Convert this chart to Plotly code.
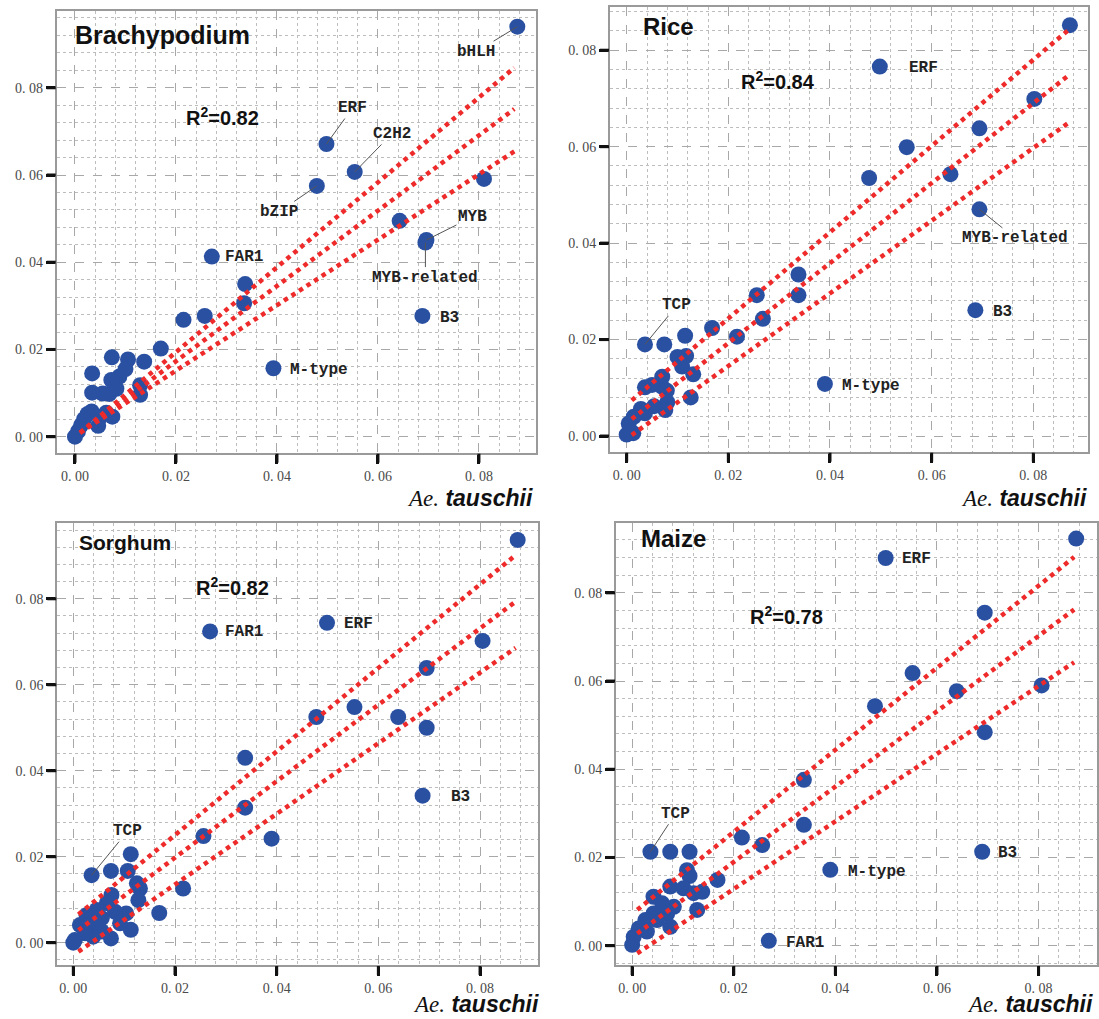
import numpy as np
import plotly.graph_objects as go

W, H = 1099, 1019

# ---------------- data ----------------
tick_vals = [0.0, 0.02, 0.04, 0.06, 0.08]
tick_text = ["0. 00", "0. 02", "0. 04", "0. 06", "0. 08"]
panel_names = ["Brachypodium", "Rice", "Sorghum", "Maize"]
r2_values = ["0.82", "0.84", "0.82", "0.78"]
x_title = "Ae. tauschii"

brachy_x = [0.0876, 0.0498, 0.0554, 0.0479, 0.0810, 0.0643, 0.0696, 0.0694, 0.0688, 0.0271,
            0.0337, 0.0335, 0.0393, 0.0257, 0.0215, 0.0170, 0.0137, 0.0105, 0.0073, 0.0100,
            0.0034, 0.0088, 0.0072, 0.0129, 0.0129, 0.0082, 0.0068, 0.0055, 0.0034, 0.0074,
            0.0062, 0.0050, 0.0046, 0.0033, 0.0025, 0.0018, 0.0012, 0.0006, 0.0000]
brachy_y = [0.0940, 0.0671, 0.0607, 0.0575, 0.0591, 0.0495, 0.0451, 0.0445, 0.0277, 0.0413,
            0.0350, 0.0306, 0.0157, 0.0277, 0.0268, 0.0202, 0.0172, 0.0177, 0.0182, 0.0155,
            0.0145, 0.0138, 0.0130, 0.0118, 0.0096, 0.0110, 0.0098, 0.0099, 0.0101, 0.0046,
            0.0055, 0.0045, 0.0025, 0.0058, 0.0052, 0.0040, 0.0026, 0.0012, 0.0000]
brachy_labels = ["bHLH", "ERF", "C2H2", "bZIP", "", "", "MYB", "MYB-related", "B3", "FAR1",
                 "", "", "M-type"] + [""] * 26

rice_x = [0.0872, 0.0498, 0.0802, 0.0694, 0.0551, 0.0637, 0.0477, 0.0694, 0.0686, 0.0390,
          0.0338, 0.0338, 0.0256, 0.0268, 0.0217, 0.0168, 0.0036, 0.0074, 0.0115, 0.0100,
          0.0117, 0.0109, 0.0131, 0.0126, 0.0070, 0.0070, 0.0036, 0.0050, 0.0079, 0.0080,
          0.0076, 0.0054, 0.0028, 0.0036, 0.0014, 0.0004, 0.0013, 0.0000]
rice_y = [0.0852, 0.0766, 0.0699, 0.0638, 0.0599, 0.0543, 0.0535, 0.0470, 0.0261, 0.0108,
          0.0335, 0.0292, 0.0292, 0.0243, 0.0206, 0.0224, 0.0190, 0.0190, 0.0208, 0.0164,
          0.0166, 0.0144, 0.0128, 0.0080, 0.0123, 0.0102, 0.0101, 0.0106, 0.0094, 0.0070,
          0.0054, 0.0062, 0.0056, 0.0047, 0.0040, 0.0026, 0.0006, 0.0003]
rice_labels = ["", "ERF", "", "", "", "", "", "MYB-related", "B3", "M-type",
               "", "", "", "", "", "", "TCP"] + [""] * 21

sorghum_x = [0.0874, 0.0499, 0.0269, 0.0805, 0.0695, 0.0553, 0.0478, 0.0639, 0.0695, 0.0338,
             0.0687, 0.0338, 0.0256, 0.0390, 0.0216, 0.0169, 0.0036, 0.0074, 0.0113, 0.0107,
             0.0125, 0.0131, 0.0128, 0.0104, 0.0113, 0.0074, 0.0075, 0.0066, 0.0082, 0.0092,
             0.0046, 0.0056, 0.0026, 0.0033, 0.0013, 0.0056, 0.0039, 0.0023, 0.0003, 0.0000]
sorghum_y = [0.0937, 0.0744, 0.0724, 0.0702, 0.0639, 0.0548, 0.0525, 0.0525, 0.0500, 0.0430,
             0.0342, 0.0314, 0.0248, 0.0242, 0.0126, 0.0069, 0.0157, 0.0167, 0.0206, 0.0167,
             0.0138, 0.0126, 0.0099, 0.0068, 0.0030, 0.0010, 0.0111, 0.0092, 0.0072, 0.0045,
             0.0076, 0.0057, 0.0064, 0.0041, 0.0041, 0.0026, 0.0014, 0.0022, 0.0006, 0.0000]
sorghum_labels = ["", "ERF", "FAR1", "", "", "", "", "", "", "",
                  "B3", "", "", "", "", "", "TCP"] + [""] * 23

maize_x = [0.0874, 0.0499, 0.0694, 0.0552, 0.0639, 0.0806, 0.0478, 0.0694, 0.0338, 0.0338,
           0.0689, 0.0390, 0.0269, 0.0216, 0.0256, 0.0036, 0.0075, 0.0113, 0.0108, 0.0113,
           0.0168, 0.0075, 0.0101, 0.0121, 0.0138, 0.0128, 0.0042, 0.0082, 0.0059, 0.0069,
           0.0075, 0.0042, 0.0026, 0.0049, 0.0013, 0.0029, 0.0003, 0.0000]
maize_y = [0.0923, 0.0879, 0.0755, 0.0618, 0.0577, 0.0590, 0.0543, 0.0484, 0.0376, 0.0274,
           0.0213, 0.0172, 0.0011, 0.0245, 0.0228, 0.0213, 0.0213, 0.0213, 0.0171, 0.0158,
           0.0149, 0.0134, 0.0130, 0.0119, 0.0122, 0.0081, 0.0111, 0.0088, 0.0096, 0.0073,
           0.0043, 0.0073, 0.0058, 0.0058, 0.0039, 0.0032, 0.0020, 0.0002]
maize_labels = ["", "ERF", "", "", "", "", "", "", "", "",
                "B3", "M-type", "FAR1", "", "", "TCP"] + [""] * 22

# fitted lines (upper, middle, lower): intercepts and slopes
fit_x_range = [0.001, 0.087]
brachy_fit_intercept = [-0.00007, 0.00004, 0.00015]
brachy_fit_slope = [0.973, 0.863, 0.750]
rice_fit_intercept = [0.0065, 0.0027, -0.00055]
rice_fit_slope = [0.894, 0.829, 0.7535]
sorghum_fit_intercept = [0.0056, 0.0020, -0.0029]
sorghum_fit_slope = [0.972, 0.889, 0.8216]
maize_fit_intercept = [0.0072, 0.0019, -0.0025]
maize_fit_slope = [0.930, 0.854, 0.767]

panels_x = [brachy_x, rice_x, sorghum_x, maize_x]
panels_y = [brachy_y, rice_y, sorghum_y, maize_y]
panels_labels = [brachy_labels, rice_labels, sorghum_labels, maize_labels]
panels_icpt = [brachy_fit_intercept, rice_fit_intercept, sorghum_fit_intercept, maize_fit_intercept]
panels_slope = [brachy_fit_slope, rice_fit_slope, sorghum_fit_slope, maize_fit_slope]

# ---------------- layout / styling ----------------
# plot frames in pixels (left, right, top, bottom)
frames = [(56.7, 536.0, 11.0, 452.7),
          (610.0, 1087.7, 7.3, 451.7),
          (57.3, 537.5, 522.7, 965.0),
          (616.0, 1097.0, 522.7, 965.0)]
xranges = [[-0.00362, 0.0913], [-0.00328, 0.0907], [-0.00315, 0.0913], [-0.00318, 0.0915]]
yranges = [[-0.00367, 0.0976], [-0.00325, 0.0889], [-0.00519, 0.0977], [-0.00438, 0.0959]]

title_pos = [(73, 35, 25), (641, 26, 24), (77, 542, 21), (639, 538, 24)]
r2_pos = [(184, 117), (739, 80), (194, 586), (748, 615)]
xtitle_pos = [(535, 498), (1089, 498), (541, 1004), (1095, 1004)]

# label offsets (px): (mode, dx, dy) ; mode 'arrow' = leader line, 'right' = text to right
label_style = [
    {"bHLH": ("arrow", -41, 25), "ERF": ("arrow", 26, -36), "C2H2": ("arrow", 37, -38),
     "bZIP": ("arrow", -38, 26), "MYB": ("arrow", 46, -23), "MYB-related": ("arrow", 0, 35),
     "FAR1": ("right", 11, 0), "B3": ("right", 16, 2), "M-type": ("right", 15, 2)},
    {"ERF": ("right", 27, 1), "MYB-related": ("arrow", 36, 29), "TCP": ("arrow", 32, -39),
     "B3": ("right", 16, 2), "M-type": ("right", 15, 2)},
    {"FAR1": ("right", 13, 1), "ERF": ("right", 15, 1), "B3": ("right", 26, 1),
     "TCP": ("arrow", 36, -44)},
    {"ERF": ("right", 14, 1), "B3": ("right", 14, 1), "M-type": ("right", 16, 2),
     "FAR1": ("right", 15, 2), "TCP": ("arrow", 25, -38)},
]

BLUE = "#2A50A2"
RED = "#EE2A2A"
GRID_MAJOR = "#A8A8A8"
GRID_MINOR = "#BDBDBD"
TICK_LEN = 9
LABEL_FONT = dict(family="Liberation Mono", size=16, color="#222222")
alias = {"%.2f" % v: t for v, t in zip(tick_vals, tick_text)}

fig = go.Figure()
annotations = []
shapes = []

for i in range(4):
    ax_id = "" if i == 0 else str(i + 1)
    xref = "x" + ax_id
    yref = "y" + ax_id
    l, r, t, b = frames[i]
    dom_x = [l / W, r / W]
    dom_y = [1 - b / H, 1 - t / H]

    fig.add_trace(go.Scatter(
        x=panels_x[i], y=panels_y[i], mode="markers",
        marker=dict(size=16, color=BLUE, line=dict(width=0)),
        xaxis=xref, yaxis=yref, showlegend=False, hoverinfo="skip"))

    fx = np.array(fit_x_range)
    for a, s in zip(panels_icpt[i], panels_slope[i]):
        fig.add_trace(go.Scatter(
            x=fx, y=a + s * fx, mode="lines",
            line=dict(color=RED, width=4.5, dash="4.5px,4.5px"),
            xaxis=xref, yaxis=yref, showlegend=False, hoverinfo="skip"))

    axis_common = dict(
        showline=True, mirror=True, linecolor="#9A9A9A", linewidth=2,
        ticks="outside", ticklen=TICK_LEN, tickwidth=3, tickcolor="#111111",
        tickmode="linear", tick0=0, dtick=tick_vals[1] - tick_vals[0],
        tickformat=".2f", labelalias=alias,
        tickfont=dict(family="Liberation Serif", size=14, color="#4A4A4A"),
        showgrid=True, gridcolor=GRID_MAJOR, gridwidth=1, griddash="dash",
        zeroline=False, automargin=False, fixedrange=True,
        minor=dict(dtick=0.004, showgrid=True,
                   gridcolor=GRID_MINOR, gridwidth=1, griddash="dot"),
    )
    fig.update_layout(**{
        "xaxis" + ax_id: dict(domain=dom_x, range=xranges[i], anchor=yref, **axis_common),
        "yaxis" + ax_id: dict(domain=dom_y, range=yranges[i], anchor=xref, **axis_common),
    })

    # explicit heavy tick marks (paper coords derived from tick values and axis mapping)
    xr0, xr1 = xranges[i]
    yr0, yr1 = yranges[i]
    for v in tick_vals:
        xp = dom_x[0] + (v - xr0) / (xr1 - xr0) * (dom_x[1] - dom_x[0])
        shapes.append(dict(type="line", xref="paper", yref="paper",
                           x0=xp, x1=xp, y0=dom_y[0] - 1 / H, y1=dom_y[0] - (TICK_LEN + 1) / H,
                           line=dict(color="#111111", width=3)))
        yp = dom_y[0] + (v - yr0) / (yr1 - yr0) * (dom_y[1] - dom_y[0])
        shapes.append(dict(type="line", xref="paper", yref="paper",
                           x0=dom_x[0] - 1 / W, x1=dom_x[0] - (TICK_LEN + 1) / W, y0=yp, y1=yp,
                           line=dict(color="#111111", width=3)))

    # panel title
    tx, ty, ts = title_pos[i]
    annotations.append(dict(
        x=tx / W, y=1 - ty / H, xref="paper", yref="paper", xanchor="left", yanchor="middle",
        text="<b>" + panel_names[i] + "</b>", showarrow=False,
        font=dict(family="Liberation Sans", size=ts, color="#111111")))
    # R2
    rx, ry = r2_pos[i]
    annotations.append(dict(
        x=rx / W, y=1 - ry / H, xref="paper", yref="paper", xanchor="left", yanchor="middle",
        text="<b>R<sup>2</sup>=" + r2_values[i] + "</b>", showarrow=False,
        font=dict(family="Liberation Sans", size=20, color="#111111")))
    # x axis title
    xx, xy = xtitle_pos[i]
    ae, sp = x_title.split(" ")
    annotations.append(dict(
        x=xx / W, y=1 - xy / H, xref="paper", yref="paper", xanchor="right", yanchor="middle",
        text="<span style='font-family:Liberation Serif'><i>" + ae + "</i></span> <b><i>" + sp + "</i></b>",
        showarrow=False, font=dict(family="Liberation Sans", size=23, color="#111111")))

    # point labels
    for px_, py_, name in zip(panels_x[i], panels_y[i], panels_labels[i]):
        if not name:
            continue
        mode, dx, dy = label_style[i][name]
        if mode == "arrow":
            annotations.append(dict(
                x=px_, y=py_, xref=xref, yref=yref, text="<b>" + name + "</b>",
                showarrow=True, arrowhead=0, arrowwidth=1, arrowcolor="#555555",
                ax=dx, ay=dy, standoff=0, font=LABEL_FONT))
        else:
            annotations.append(dict(
                x=px_, y=py_, xref=xref, yref=yref, text="<b>" + name + "</b>",
                showarrow=False, xanchor="left", yanchor="middle",
                xshift=dx, yshift=-dy, font=LABEL_FONT))

fig.update_layout(
    width=W, height=H, margin=dict(l=0, r=0, t=0, b=0),
    paper_bgcolor="white", plot_bgcolor="white",
    annotations=annotations, shapes=shapes, showlegend=False)

fig.write_html("out.html", config={"displayModeBar": False, "staticPlot": True},
               post_script="document.body.style.margin='0px';document.body.style.padding='0px';")
